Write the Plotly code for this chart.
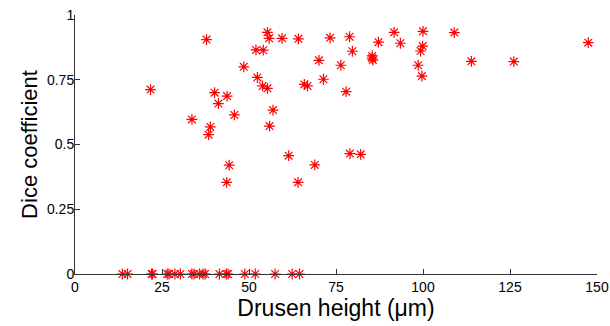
import plotly.graph_objects as go

# Drusen height (µm) and Dice coefficient per lesion
height_nonzero = [21.7, 37.8, 52.0, 48.5, 52.4, 40.1, 43.7, 41.2, 45.8, 33.6, 38.9, 38.4,
                  55.3, 55.8, 59.5, 64.2, 73.3, 78.9, 91.7, 100.0, 54.1, 87.2, 93.5, 99.9,
                  99.3, 79.7, 85.4, 85.4, 85.6, 70.1, 76.4, 98.6, 99.7, 53.9, 55.3, 65.9,
                  66.8, 71.4, 77.9, 56.9, 55.9, 109.0, 113.9, 126.1, 147.5, 44.3, 43.6,
                  61.4, 64.1, 68.9, 79.0, 82.1]
dice_nonzero = [0.712, 0.905, 0.865, 0.800, 0.759, 0.700, 0.687, 0.658, 0.614, 0.597, 0.568, 0.538,
                0.933, 0.910, 0.910, 0.908, 0.912, 0.916, 0.933, 0.937, 0.864, 0.895, 0.891, 0.880,
                0.861, 0.860, 0.842, 0.833, 0.826, 0.825, 0.806, 0.806, 0.764, 0.726, 0.717, 0.732,
                0.726, 0.752, 0.704, 0.633, 0.571, 0.932, 0.821, 0.820, 0.893, 0.420, 0.354,
                0.457, 0.354, 0.421, 0.465, 0.462]

height_zero = [13.6, 15.1, 22.0, 22.3, 26.5, 27.0, 28.7, 30.3, 33.6, 34.2, 35.8, 36.8, 37.4,
               41.5, 43.5, 44.0, 48.8, 51.8, 57.5, 62.4, 64.5]
dice_zero = [0.0] * len(height_zero)

heights = height_nonzero + height_zero
dice = dice_nonzero + dice_zero

x_ticks = [0, 25, 50, 75, 100, 125, 150]
y_ticks = [0, 0.25, 0.5, 0.75, 1]
y_tick_text = ["0", "0.25", "0.5", "0.75", "1"]

FAMILY = "Liberation Sans, Arial, sans-serif"

fig = go.Figure(go.Scatter(
    x=heights, y=dice, mode="markers", cliponaxis=False,
    marker=dict(symbol="asterisk-open", size=9, color="red",
                line=dict(color="red", width=1.2)),
))

tick_font = dict(family=FAMILY, size=14, color="black")
fig.update_layout(
    width=610, height=326,
    margin=dict(l=75, r=13, t=15, b=52),
    paper_bgcolor="white", plot_bgcolor="white",
    showlegend=False,
    font=tick_font,
    xaxis=dict(range=[0, 150], tickvals=x_ticks, ticks="inside", ticklen=5,
               tickcolor="#333", showline=True, linecolor="#333", linewidth=1,
               showgrid=False, zeroline=False, tickfont=tick_font,
               ticklabeloverflow="allow", automargin=False,
               title=dict(text="Drusen height (μm)", standoff=5,
                          font=dict(family=FAMILY, size=23, color="black"))),
    yaxis=dict(range=[0, 1], tickvals=y_ticks, ticktext=y_tick_text, ticks="inside", ticklen=5,
               tickcolor="#333", showline=True, linecolor="#333", linewidth=1,
               showgrid=False, zeroline=False, tickfont=tick_font,
               ticklabelstandoff=-3, automargin=False,
               title=dict(text="Dice coefficient", standoff=3,
                          font=dict(family=FAMILY, size=22, color="black"))),
)

fig.write_html("out.html")
